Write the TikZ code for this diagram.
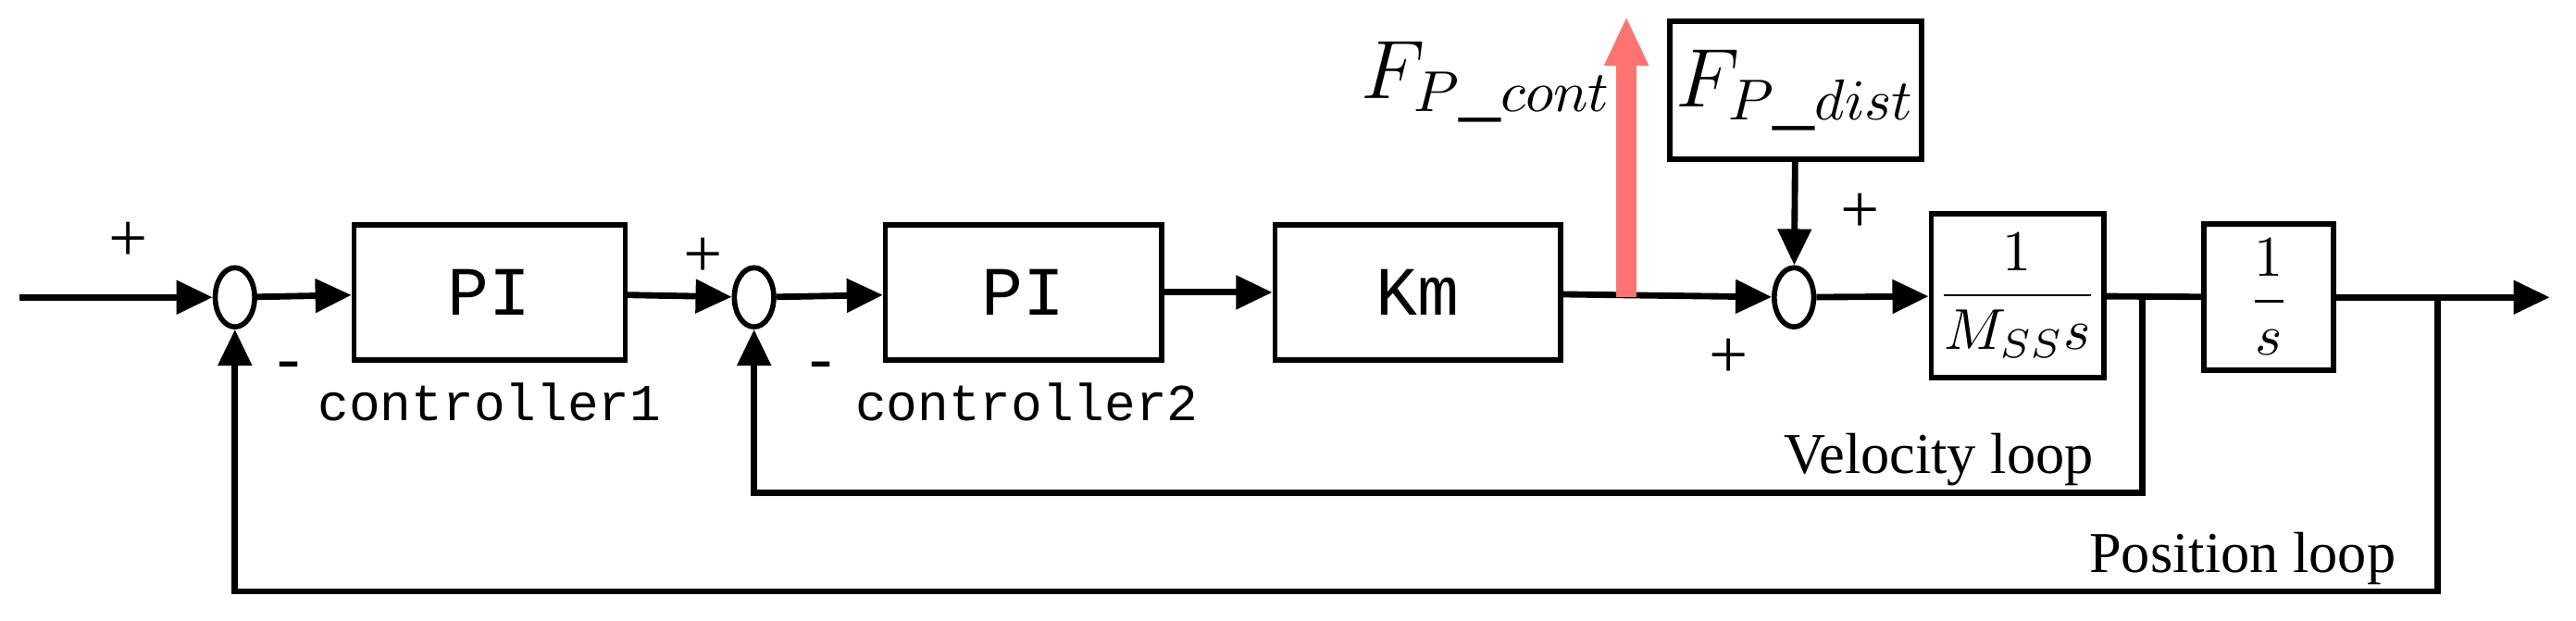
\documentclass[tikz,border=0pt]{standalone}
\usepackage{fontspec}
\setmainfont{Liberation Serif}
\setmonofont{Liberation Mono}
\usetikzlibrary{arrows.meta,shapes.geometric}
\begin{document}
\begin{tikzpicture}[x=0.1mm,y=-0.1mm]
   \tikzset{block/.style = {rectangle, draw, line width=0.9pt, text centered, inner sep=1pt, font=\ttfamily\large}, }
   \tikzset{sum/.style = {ellipse, draw, line width=0.9pt, minimum width=0.24cm, minimum height=0.36cm, inner sep=0pt}, }
   \tikzset{sig/.style = {line width=1.1pt, -{Triangle[length=0.22cm,width=0.2cm]}}, }
   \tikzset{wire/.style = {line width=1.1pt}, }
   \tikzset{lbl/.style = {font=\large}, }
   \useasboundingbox (0,0) rectangle (1568,378);
   % blocks
   \node[sum] (S1) at (143,181) {};
   \node[block, minimum width=1.65cm, minimum height=0.82cm] (PI1) at (298,178) {PI};
   \node[sum] (S2) at (459,181) {};
   \node[block, minimum width=1.68cm, minimum height=0.82cm] (PI2) at (623,178) {PI};
   \node[block, minimum width=1.74cm, minimum height=0.82cm] (KM) at (863,178) {Km};
   \node[sum] (S3) at (1092,181) {};
   \node[block, minimum width=1.45cm, minimum height=0.84cm, font=\Large] (FD) at (1093,55) {$F_{P\_dist}$};
   \node[block, minimum width=0.92cm, minimum height=1.0cm, font=\normalsize] (MS) at (1228,180) {$\displaystyle\frac{1}{M_{SS}s}$};
   \node[block, minimum width=0.79cm, minimum height=0.89cm, font=\normalsize] (IS) at (1381,181) {$\displaystyle\frac{1}{s}$};
   \coordinate (IN) at (12,181);
   \coordinate (OUT) at (1552,181);
   \coordinate (RED) at (990,181);
   \coordinate (RT) at (990,10);
   \coordinate (V1) at (1304,181);
   \coordinate (V2) at (1304,300);
   \coordinate (V3) at (459,300);
   \coordinate (P1) at (1484,181);
   \coordinate (P2) at (1484,360);
   \coordinate (P3) at (143,360);
   % signals
   \draw[sig] (IN) -- (S1);
   \draw[sig] (S1) -- (PI1);
   \draw[sig] (PI1) -- (S2);
   \draw[sig] (S2) -- (PI2);
   \draw[sig] (PI2) -- (KM);
   \draw[sig] (KM) -- (S3);
   \draw[sig] (FD) -- (S3);
   \draw[sig] (S3) -- (MS);
   \draw[wire] (MS) -- (IS);
   \draw[sig] (IS) -- (OUT);
   \draw[color=red!55, line width=3.5pt, -{Triangle[length=0.3cm,width=0.25cm]}] (RED) -- (RT);
   % loops
   \draw[sig] (V1) -- (V2) -- (V3) -- (S2);
   \draw[sig] (P1) -- (P2) -- (P3) -- (S1);
   % labels
   \node[lbl] at (78,147) {+};
   \node[lbl] at (176,226) {-};
   \node[lbl] at (428,157) {+};
   \node[lbl] at (500,226) {-};
   \node[lbl] at (1132,130) {+};
   \node[lbl] at (1052,218) {+};
   \node[font=\ttfamily\small] at (298,245) {controller1};
   \node[font=\ttfamily\small] at (625,245) {controller2};
   \node[font=\Large] at (905,50) {$F_{P\_cont}$};
   \node[font=\normalsize] at (1180,280) {Velocity loop};
   \node[font=\normalsize] at (1365,340) {Position loop};
\end{tikzpicture}
\end{document}
